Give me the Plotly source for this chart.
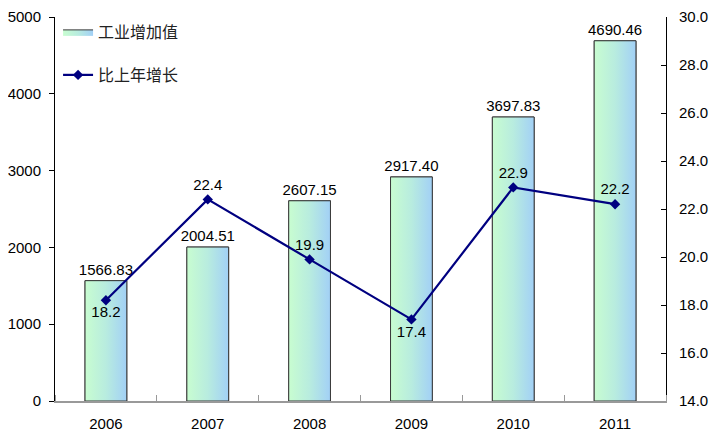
import plotly.graph_objects as go

years = ["2006", "2007", "2008", "2009", "2010", "2011"]
value_added = [1566.83, 2004.51, 2607.15, 2917.40, 3697.83, 4690.46]
growth = [18.2, 22.4, 19.9, 17.4, 22.9, 22.2]
growth_pos = ["bottom center", "top center", "top center", "bottom center", "top center", "top center"]

idx = list(range(len(years)))
W = 0.41
FONT = "Liberation Sans, Arial, sans-serif"
CJK = "Noto Sans CJK SC, sans-serif"

fig = go.Figure()

# gradient fills for the bars (one per bar so each gets its own gradient)
for i, v in zip(idx, value_added):
    fig.add_trace(go.Scatter(
        x=[i - W / 2, i + W / 2, i + W / 2, i - W / 2, i - W / 2],
        y=[0, 0, v, v, 0],
        mode="lines", fill="toself",
        fillgradient=dict(type="horizontal",
                          colorscale=[[0, "#c8fdd0"], [0.5, "#b8ecdf"], [1, "#a2d0f6"]]),
        line=dict(color="#3a3a3a", width=1),
        name="工业增加值", legend="legend",
        showlegend=(i == 0), hoverinfo="skip",
    ))

fig.add_trace(go.Bar(
    x=idx, y=value_added, width=W,
    marker=dict(color="rgba(0,0,0,0)", line=dict(color="#3a3a3a", width=1)),
    text=[f"{v:.2f}" for v in value_added], textposition="outside",
    constraintext="none",
    textfont=dict(family=FONT, size=15, color="#000"),
    cliponaxis=False, showlegend=False,
))

fig.add_trace(go.Scatter(
    x=idx, y=growth, yaxis="y2", name="比上年增长", legend="legend2",
    mode="lines+markers+text",
    line=dict(color="#000080", width=2.2),
    marker=dict(symbol="diamond", size=8, color="#000080"),
    text=[f"{g:.1f}" for g in growth], textposition=growth_pos,
    textfont=dict(family=FONT, size=15, color="#000"),
    cliponaxis=False,
))

fig.update_layout(
    width=712, height=434,
    margin=dict(l=47, r=54, t=9, b=41, autoexpand=False),
    paper_bgcolor="white", plot_bgcolor="white",
    font=dict(family=FONT, size=15, color="#000"),
    xaxis=dict(range=[-0.5, 5.5], tickvals=idx, ticktext=years, ticks="",
               showline=True, linecolor="#999", linewidth=1.5, ticklabelstandoff=8,
               showgrid=False, zeroline=False, fixedrange=True, automargin=False,
               minor=dict(tick0=0.5, dtick=1, ticks="inside", ticklen=6,
                          tickcolor="#999", showgrid=False),
               tickfont=dict(size=15)),
    yaxis=dict(range=[0, 5000], dtick=1000, showline=True, linecolor="#000",
               linewidth=1, ticks="outside", ticklen=5, tickcolor="#000", automargin=False,
               ticklabelstandoff=5,
               showgrid=False, zeroline=False, tickfont=dict(size=15)),
    yaxis2=dict(range=[14, 30], dtick=2, tickformat=".1f", overlaying="y", side="right",
                showline=True, linecolor="#000", linewidth=1, ticks="inside", automargin=False,
                ticklen=5, tickcolor="#000", showgrid=False, zeroline=False,
                ticklabelstandoff=9, tickfont=dict(size=15)),
    legend=dict(x=0.005, xanchor="left", y=0.961, yanchor="middle",
                bgcolor="rgba(0,0,0,0)", font=dict(family=CJK, size=16, color="#222")),
    legend2=dict(x=0.005, xanchor="left", y=0.849, yanchor="middle",
                 bgcolor="rgba(0,0,0,0)", font=dict(family=CJK, size=16, color="#222")),
)

fig.write_html("out.html")
